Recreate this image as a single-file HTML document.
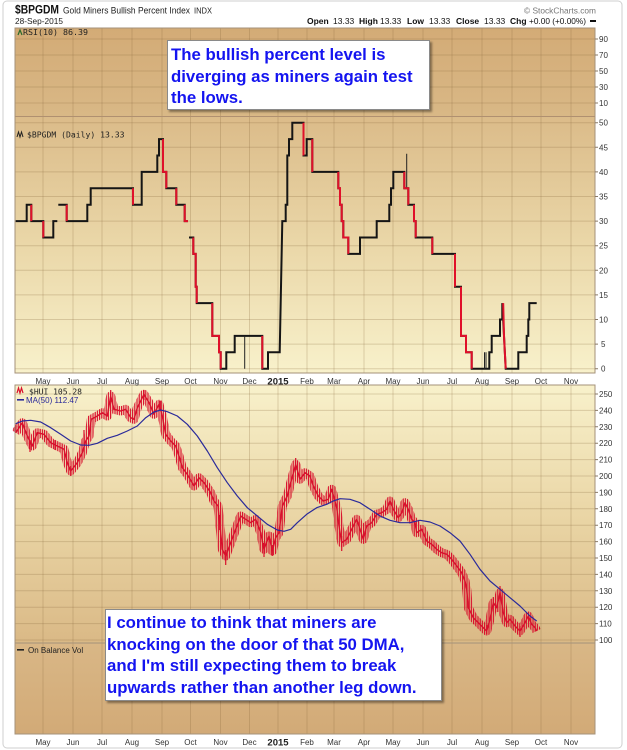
<!DOCTYPE html>
<html><head><meta charset="utf-8">
<style>
html,body{margin:0;padding:0;background:#fff;}
body{width:627px;height:750px;position:relative;overflow:hidden;font-family:"Liberation Sans",Arial,sans-serif;}
svg{position:absolute;left:0;top:0;}
.box{position:absolute;background:#fff;border:1px solid #8a8a8a;box-shadow:2px 2px 2px rgba(0,0,0,0.4);
 font-family:"Liberation Sans",Arial,sans-serif;font-weight:bold;font-size:16.8px;line-height:21.6px;color:#1414f0;white-space:nowrap;box-sizing:border-box;}
</style></head><body>
<svg width="627" height="750" viewBox="0 0 627 750" xmlns="http://www.w3.org/2000/svg">
<defs>
<linearGradient id="gRsi" x1="0" y1="0" x2="0" y2="1"><stop offset="0" stop-color="#d3ab76"/><stop offset="1" stop-color="#d9b886"/></linearGradient>
<linearGradient id="gMain" x1="0" y1="0" x2="0" y2="1"><stop offset="0" stop-color="#dbbb89"/><stop offset="0.5" stop-color="#ead7a8"/><stop offset="1" stop-color="#f8f1cb"/></linearGradient>
<linearGradient id="gHui" x1="0" y1="0" x2="0" y2="1"><stop offset="0" stop-color="#f8f1cb"/><stop offset="0.5" stop-color="#ead6a6"/><stop offset="1" stop-color="#dab986"/></linearGradient>
<linearGradient id="gObv" x1="0" y1="0" x2="0" y2="1"><stop offset="0" stop-color="#d9b786"/><stop offset="1" stop-color="#d2aa77"/></linearGradient>
<pattern id="bars" patternUnits="userSpaceOnUse" width="2.2" height="6"><rect x="0" y="0" width="1.2" height="6" fill="#d8102c"/></pattern>
</defs>

<!-- outer frame -->
<rect x="3" y="1" width="619" height="747" rx="4" fill="#fff" stroke="#cfcfcf" stroke-width="1"/>

<!-- header -->
<text x="15" y="13.5" font-family="Liberation Sans, Arial, sans-serif" font-weight="bold" font-size="11.5" fill="#111" textLength="44" lengthAdjust="spacingAndGlyphs">$BPGDM</text>
<text x="63" y="13.5" font-family="Liberation Sans, Arial, sans-serif" font-size="8.8" fill="#222" textLength="127" lengthAdjust="spacingAndGlyphs">Gold Miners Bullish Percent Index</text>
<text x="194" y="13.5" font-family="Liberation Sans, Arial, sans-serif" font-size="8" fill="#222" textLength="18" lengthAdjust="spacingAndGlyphs">INDX</text>
<text x="596" y="13.5" text-anchor="end" font-family="Liberation Sans, Arial, sans-serif" font-size="8.5" fill="#777" textLength="72" lengthAdjust="spacingAndGlyphs">© StockCharts.com</text>
<text x="15" y="24" font-family="Liberation Sans, Arial, sans-serif" font-size="8.5" fill="#222" textLength="48" lengthAdjust="spacingAndGlyphs">28-Sep-2015</text>
<g font-family="Liberation Sans, Arial, sans-serif" font-size="8.5" fill="#111">
<text x="307" y="24" font-weight="bold">Open</text><text x="333" y="24">13.33</text>
<text x="359" y="24" font-weight="bold">High</text><text x="380" y="24">13.33</text>
<text x="407" y="24" font-weight="bold">Low</text><text x="429" y="24">13.33</text>
<text x="456" y="24" font-weight="bold">Close</text><text x="484" y="24">13.33</text>
<text x="510" y="24" font-weight="bold">Chg</text><text x="529" y="24" textLength="57" lengthAdjust="spacingAndGlyphs">+0.00 (+0.00%)</text>
</g>
<rect x="590" y="20" width="6" height="2" fill="#111"/>

<!-- panels -->
<rect x="15" y="28" width="580" height="88" fill="url(#gRsi)"/>
<rect x="15" y="116" width="580" height="257" fill="url(#gMain)"/>
<rect x="15" y="385" width="580" height="258" fill="url(#gHui)"/>
<rect x="15" y="643" width="580" height="91" fill="url(#gObv)"/>

<!-- vertical gridlines -->
<g stroke="rgba(130,100,55,0.25)" stroke-width="1">
<path d="M43,28V373M73,28V373M102,28V373M132,28V373M162,28V373M190.5,28V373M220.5,28V373M249.5,28V373M278,28V373M307,28V373M334,28V373M364,28V373M393,28V373M423,28V373M452,28V373M482,28V373M512,28V373M541,28V373M571,28V373"/>
<path d="M43,385V734M73,385V734M102,385V734M132,385V734M162,385V734M190.5,385V734M220.5,385V734M249.5,385V734M278,385V734M307,385V734M334,385V734M364,385V734M393,385V734M423,385V734M452,385V734M482,385V734M512,385V734M541,385V734M571,385V734"/>
<!-- rsi horizontals -->
<path d="M15,39H595M15,55H595M15,71H595M15,87H595M15,103H595"/>
<!-- main horizontals -->
<path d="M15,122.7H595M15,147.3H595M15,171.9H595M15,196.5H595M15,221.1H595M15,245.7H595M15,270.3H595M15,294.9H595M15,319.5H595M15,344.1H595M15,368.7H595"/>
<!-- hui horizontals -->
<path d="M15,394H595M15,410.4H595M15,426.8H595M15,443.2H595M15,459.6H595M15,476H595M15,492.4H595M15,508.8H595M15,525.2H595M15,541.6H595M15,558H595M15,574.4H595M15,590.8H595M15,607.2H595M15,623.6H595M15,640H595"/>
</g>

<!-- panel borders -->
<g fill="none" stroke="#a4927a" stroke-width="1">
<rect x="15" y="28" width="580" height="345"/>
<rect x="15" y="385" width="580" height="349"/>
<path d="M15,116.5H595M15,643H595"/>
</g>
<path d="M15,116.5H595" stroke="#b09070" stroke-width="1"/>

<!-- right axis ticks -->
<g stroke="#8a7a66" stroke-width="1">
<path d="M595,39h3M595,55h3M595,71h3M595,87h3M595,103h3"/>
<path d="M595,122.7h3M595,147.3h3M595,171.9h3M595,196.5h3M595,221.1h3M595,245.7h3M595,270.3h3M595,294.9h3M595,319.5h3M595,344.1h3M595,368.7h3"/>
<path d="M595,394h3M595,410.4h3M595,426.8h3M595,443.2h3M595,459.6h3M595,476h3M595,492.4h3M595,508.8h3M595,525.2h3M595,541.6h3M595,558h3M595,574.4h3M595,590.8h3M595,607.2h3M595,623.6h3M595,640h3"/>
</g>

<!-- right axis labels -->
<g font-family="Liberation Sans, Arial, sans-serif" font-size="8" fill="#333">
<text x="599" y="42">90</text><text x="599" y="58">70</text><text x="599" y="74">50</text><text x="599" y="90">30</text><text x="599" y="106">10</text>
<text x="599" y="125.7">50</text><text x="599" y="150.3">45</text><text x="599" y="174.9">40</text><text x="599" y="199.5">35</text><text x="599" y="224.1">30</text><text x="599" y="248.7">25</text><text x="599" y="273.3">20</text><text x="599" y="297.9">15</text><text x="599" y="322.5">10</text><text x="601" y="347.1">5</text><text x="601" y="371.7">0</text>
<text x="599" y="397">250</text><text x="599" y="413.4">240</text><text x="599" y="429.8">230</text><text x="599" y="446.2">220</text><text x="599" y="462.6">210</text><text x="599" y="479">200</text><text x="599" y="495.4">190</text><text x="599" y="511.8">180</text><text x="599" y="528.2">170</text><text x="599" y="544.6">160</text><text x="599" y="561">150</text><text x="599" y="577.4">140</text><text x="599" y="593.8">130</text><text x="599" y="610.2">120</text><text x="599" y="626.6">110</text><text x="599" y="643">100</text>
</g>

<!-- x axis labels -->
<g font-family="Liberation Sans, Arial, sans-serif" font-size="8" fill="#333" text-anchor="middle">
<text x="43" y="384">May</text><text x="73" y="384">Jun</text><text x="102" y="384">Jul</text><text x="132" y="384">Aug</text><text x="162" y="384">Sep</text><text x="190.5" y="384">Oct</text><text x="220.5" y="384">Nov</text><text x="249.5" y="384">Dec</text><text x="278" y="384.5" font-weight="bold" font-size="9.5" fill="#222">2015</text><text x="307" y="384">Feb</text><text x="334" y="384">Mar</text><text x="364" y="384">Apr</text><text x="393" y="384">May</text><text x="423" y="384">Jun</text><text x="452" y="384">Jul</text><text x="482" y="384">Aug</text><text x="512" y="384">Sep</text><text x="541" y="384">Oct</text><text x="571" y="384">Nov</text>
<text x="43" y="745">May</text><text x="73" y="745">Jun</text><text x="102" y="745">Jul</text><text x="132" y="745">Aug</text><text x="162" y="745">Sep</text><text x="190.5" y="745">Oct</text><text x="220.5" y="745">Nov</text><text x="249.5" y="745">Dec</text><text x="278" y="745.5" font-weight="bold" font-size="9.5" fill="#222">2015</text><text x="307" y="745">Feb</text><text x="334" y="745">Mar</text><text x="364" y="745">Apr</text><text x="393" y="745">May</text><text x="423" y="745">Jun</text><text x="452" y="745">Jul</text><text x="482" y="745">Aug</text><text x="512" y="745">Sep</text><text x="541" y="745">Oct</text><text x="571" y="745">Nov</text>
</g>

<!-- panel labels -->
<path d="M18,35l2,-5l2,5" fill="none" stroke="#2a6a2a" stroke-width="1.2"/>
<text x="23" y="35" font-family="DejaVu Sans Mono, Liberation Mono, monospace" font-size="8.3" fill="#222">RSI(10) 86.39</text>
<path d="M17,137l1.5,-5l1.5,5l1.5,-5l1.5,5" fill="none" stroke="#222" stroke-width="1"/>
<text x="27" y="137.5" font-family="DejaVu Sans Mono, Liberation Mono, monospace" font-size="8.1" fill="#222">$BPGDM (Daily) 13.33</text>
<path d="M17,393l1.5,-5l1.5,5l1.5,-5l1.5,5" fill="none" stroke="#d8102c" stroke-width="1.2"/>
<text x="29" y="394.5" font-family="DejaVu Sans Mono, Liberation Mono, monospace" font-size="8" fill="#222">$HUI 105.28</text>
<rect x="17" y="399" width="7" height="1.6" fill="#2a2a9a"/>
<text x="26" y="403" font-family="Liberation Sans, Arial, sans-serif" font-size="8" fill="#2a2a9a">MA(50) 112.47</text>
<rect x="17" y="649" width="7" height="1.6" fill="#222"/>
<text x="28" y="653" font-family="Liberation Sans, Arial, sans-serif" font-size="8" fill="#222">On Balance Vol</text>

<!-- BPGDM step series (black) -->
<g fill="none" stroke="#151515" stroke-width="2" stroke-linejoin="miter">
<path d="M15.7,221.1H26.7V204.7H31.3V221.1H43.3V237.5H53.3V221.1H57.3"/>
<path d="M58.3,204.7H66.7V221.1H87.3V204.7H90.7V188.3H133V204.7H141.7V171.9H157.3V155.5H159V139.1H163V171.9H166.3V188.3H176.3V204.7H184.7V221.1H188"/>
<path d="M189,237.5H193.3V253.9H195.7V286.7H196.7V303.1H212.3V335.9H219V352.3H220.7V368.7H226.3V352.3H234.7V335.9H262.3V368.7H268V352.3H279.7L281,286.7L282.3,221.1H285.7V204.7H287.3V155.5H289V139.1H292.3V122.7H303.5V155.5H306.7V139.1H312.3V171.9H338.3V188.3H340V204.7H341.7V221.1H343.3V237.5H348.3V253.9H360V237.5H376.7V221.1H389.3V204.7H391V188.3H393.3V171.9H404.3V188.3H408.3V204.7H414V221.1H415.7V237.5H432.3V253.9H455V286.7H461V335.9H466V352.3H471.7V368.7H489.3V352.3H491.7V335.9H500V319.5H502.3V303.1L504,335.9L505.7,368.7H518.3V352.3H526.7V335.9H528.3V319.5H529.3V303.1H536.7"/>
</g>
<!-- thin spikes -->
<g stroke="#222" stroke-width="1" fill="none">
<path d="M244.7,335.9V368.7M406.7,188.3V153.7M484.5,368.7V352.3M486,368.7V352.3"/>
</g>
<!-- red down-steps -->
<g fill="none" stroke="#e0102a" stroke-width="2" stroke-linejoin="miter">
<path d="M31.3,204.7V221.1M43.3,221.1V237.5M66.7,204.7V221.1M133,188.3V204.7"/>
<path d="M163,139.1V171.9H166.3V188.3M176.3,188.3V204.7M184.7,204.7V221.1H188"/>
<path d="M193.3,237.5V253.9H195.7V286.7H196.7V303.1M212.3,303.1V335.9H219V352.3H220.7V368.7M262.3,335.9V368.7"/>
<path d="M303.5,122.7V155.5M312.3,139.1V171.9M338.3,171.9V188.3H340V204.7H341.7V221.1H343.3V237.5H348.3V253.9"/>
<path d="M404.3,171.9V188.3H408.3V204.7M414,204.7V221.1H415.7V237.5M432.3,237.5V253.9M455,253.9V286.7M461,286.7V335.9H466V352.3H471.7V368.7M503.2,303.1L504,335.9L505.7,368.7"/>
</g>

<!-- HUI price -->
<polyline fill="none" stroke="url(#bars)" stroke-width="9" stroke-linejoin="round" points="15.7,432.7 22.3,422.7 27.3,436 32.3,446 37.3,432.7 44,434.3 50.7,442.7 57.3,446 64,449.3 67.3,462.7 70.7,471 77.3,462.7 82.3,452.7 85.7,441 89,436 91.3,419.3 97.3,416 102.3,412.7 107.3,416 110.7,396 114,409.3 120.7,411 125.7,409.3 130.7,417.7 134,419.3 137.3,407.7 144,394.3 149,402.7 154,414.3 159,404.3 162.3,416 165.7,434.3 170.7,441 175.7,446 179,456 182.3,467.7 187.3,474.3 194,486 199,477.7 204,482.7 210.7,492.7 214,501 218,506 219.7,522.7 222.3,549.3 225.7,556 230.7,542.7 235.7,529.3 240.7,516 245.7,519.3 250.7,522.7 255.7,519.3 260.7,532.7 264,549.3 269,536 272.3,551 275.7,537.7 279,532.7 282.3,506 287.3,496 290.7,482.7 295.7,464.3 300,479.3 305,472.7 310,476 313.3,486 318.3,496 323.3,501 328.3,499.3 331.7,489.3 336.7,507.7 339,526 341.7,542.7 346.7,539.3 351.7,529.3 356.7,519.3 360,529.3 363.3,539.3 366.7,526 371.7,522.7 376.7,514.3 381.7,512.7 386.7,509.3 390,501 393.3,509.3 398.3,517.7 401.7,512.7 405,502.7 408.3,509.3 411.7,519.3 415,522.7 416.7,532.7 421.7,529.3 426.7,541 431.7,544.3 436.7,549.3 441.7,552.7 446.7,554.3 451.7,559.3 456.7,566 461.7,572.7 465,581 466.7,589.3 468.3,607.7 473.3,617.7 478.3,622.7 483.3,627.7 486.7,631 490,619.3 493.3,602.7 496.7,607.7 500,592.7 503.3,612.7 506.7,622.7 510,619.3 515,626 520,631 525,622.7 528.3,616 531.7,624.3 535,627.7 536.7,631"/>
<polyline fill="none" stroke="#d8102c" stroke-width="1.4" stroke-linejoin="round" points="15.7,432.7 22.3,422.7 27.3,436 32.3,446 37.3,432.7 44,434.3 50.7,442.7 57.3,446 64,449.3 67.3,462.7 70.7,471 77.3,462.7 82.3,452.7 85.7,441 89,436 91.3,419.3 97.3,416 102.3,412.7 107.3,416 110.7,396 114,409.3 120.7,411 125.7,409.3 130.7,417.7 134,419.3 137.3,407.7 144,394.3 149,402.7 154,414.3 159,404.3 162.3,416 165.7,434.3 170.7,441 175.7,446 179,456 182.3,467.7 187.3,474.3 194,486 199,477.7 204,482.7 210.7,492.7 214,501 218,506 219.7,522.7 222.3,549.3 225.7,556 230.7,542.7 235.7,529.3 240.7,516 245.7,519.3 250.7,522.7 255.7,519.3 260.7,532.7 264,549.3 269,536 272.3,551 275.7,537.7 279,532.7 282.3,506 287.3,496 290.7,482.7 295.7,464.3 300,479.3 305,472.7 310,476 313.3,486 318.3,496 323.3,501 328.3,499.3 331.7,489.3 336.7,507.7 339,526 341.7,542.7 346.7,539.3 351.7,529.3 356.7,519.3 360,529.3 363.3,539.3 366.7,526 371.7,522.7 376.7,514.3 381.7,512.7 386.7,509.3 390,501 393.3,509.3 398.3,517.7 401.7,512.7 405,502.7 408.3,509.3 411.7,519.3 415,522.7 416.7,532.7 421.7,529.3 426.7,541 431.7,544.3 436.7,549.3 441.7,552.7 446.7,554.3 451.7,559.3 456.7,566 461.7,572.7 465,581 466.7,589.3 468.3,607.7 473.3,617.7 478.3,622.7 483.3,627.7 486.7,631 490,619.3 493.3,602.7 496.7,607.7 500,592.7 503.3,612.7 506.7,622.7 510,619.3 515,626 520,631 525,622.7 528.3,616 531.7,624.3 535,627.7 536.7,631"/>
<!-- extreme spikes -->
<g stroke="#d8102c" stroke-width="1.2">
<path d="M110.7,390V402M144,390V400M70.7,466V476M225.7,550V565M264,543V557M272.3,545V556M295.7,458V470M341.7,536V551M486.7,625V634M500,586V598M520,626V637M493.3,597V607M219.7,515V530M84,430V445M160,401V410M30,440V452M55,440V450"/>
</g>

<!-- MA(50) -->
<polyline fill="none" stroke="#2a2a9a" stroke-width="1.2" stroke-linejoin="round" points="15.7,423.7 22.3,421 30.7,420.3 40.7,422 50.7,427.7 60.7,434.3 70.7,441 80.7,445 89,445.3 97.3,443.3 107.3,438.3 117.3,435.3 127.3,431 137.3,426 145.7,417.7 154,412 160.7,410 167.3,411.7 177.3,416 187.3,424.3 197.3,436 207.3,451 217.3,467.7 227.3,482.7 237.3,496 247.3,507.7 257.3,516 267.3,524.3 277.3,530 284,531.3 290.7,529.3 297.3,522.7 306.7,514.3 316.7,507.7 326.7,504.3 333.3,501 340,498.7 350,499.3 360,502.7 370,509.3 380,516 390,520.3 400,522.7 410,522.7 420,520.3 430,522 440,526 450,532.7 460,541 470,554.3 480,569.3 490,581 500,589.3 510,597.7 520,606 530,616 536.7,621"/>
</svg>

<div class="box" style="left:167px;top:40px;width:263px;height:70px;padding:3px 0 0 3px;">The bullish percent level is<br>diverging as miners again test<br>the lows.</div>
<div class="box" style="left:105px;top:609px;width:337px;height:92px;padding:2px 0 0 1px;">I continue to think that miners are<br>knocking on the door of that 50 DMA,<br>and I'm still expecting them to break<br>upwards rather than another leg down.</div>
</body></html>
